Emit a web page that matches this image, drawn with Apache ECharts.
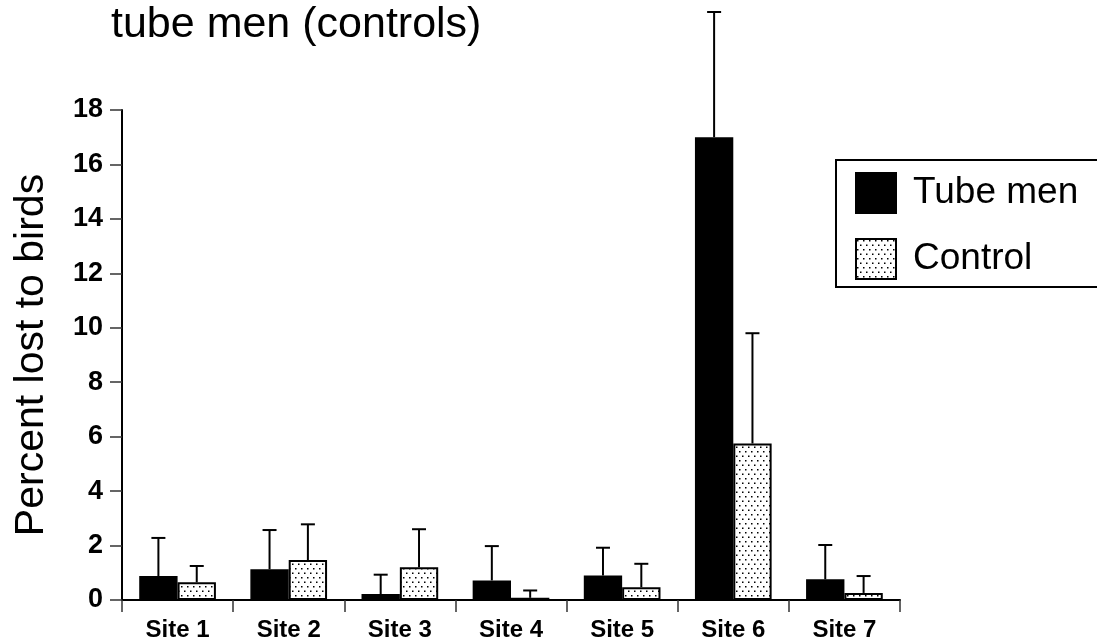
<!DOCTYPE html>
<html>
<head>
<meta charset="utf-8">
<script src="https://cdn.jsdelivr.net/npm/echarts@6/dist/echarts.min.js"></script>
<style>
html,body{margin:0;padding:0;background:#fff;}
#chart{width:1097px;height:643px;}
</style>
</head>
<body>
<div id="chart"></div>
<script>
const categories = ['Site 1','Site 2','Site 3','Site 4','Site 5','Site 6','Site 7'];
const tubeMen    = [0.88, 1.13, 0.22, 0.72, 0.90, 17.0, 0.76];
const tubeMenErr = [1.40, 1.44, 0.71, 1.26, 1.02, 4.60, 1.26];
const control    = [0.65, 1.47, 1.20, 0.08, 0.47, 5.75, 0.26];
const controlErr = [0.60, 1.31, 1.40, 0.27, 0.86, 4.05, 0.62];
const seriesNames = ['Tube men', 'Control'];
const titleText = 'tube men (controls)';
const yAxisName = 'Percent lost to birds';

// dotted pattern
const tile = document.createElement('canvas');
tile.width = 6; tile.height = 9;
const tctx = tile.getContext('2d');
tctx.fillStyle = '#fff';
tctx.fillRect(0, 0, 6, 9);
tctx.fillStyle = '#000';
tctx.fillRect(1, 1, 1.5, 1.5);
tctx.fillRect(4, 5.5, 1.5, 1.5);
const dotPattern = { image: tile, repeat: 'repeat' };

const CAT_GAP = 0.31;
const FONT = 'Liberation Sans, Arial, sans-serif';

function errRender(values, errs, side) {
  return function (params, api) {
    const i = api.value(0);
    const v = values[i];
    const e = errs[i];
    const band = api.size([1, 0])[0];
    const barW = band * (1 - CAT_GAP) / 2;
    const base = api.coord([i, v]);
    const top = api.coord([i, v + e]);
    const x = base[0] + side * barW / 2;
    const cap = 7;
    const style = { stroke: '#000', lineWidth: 2 };
    return {
      type: 'group',
      children: [
        { type: 'line', shape: { x1: x, y1: base[1], x2: x, y2: top[1] }, style: style },
        { type: 'line', shape: { x1: x - cap, y1: top[1], x2: x + cap, y2: top[1] }, style: style }
      ]
    };
  };
}

const chart = echarts.init(document.getElementById('chart'), null, { renderer: 'canvas' });
chart.setOption({
  animation: false,
  backgroundColor: '#fff',
  title: {
    text: titleText,
    left: 111,
    top: 4,
    padding: 0,
    textStyle: { fontFamily: FONT, fontSize: 43, fontWeight: 'normal', color: '#000' }
  },
  legend: {
    orient: 'vertical',
    left: 855,
    top: 172,
    padding: 0,
    itemWidth: 40,
    itemHeight: 40,
    itemGap: 24,
    icon: 'rect',
    data: seriesNames,
    textStyle: { fontFamily: FONT, fontSize: 37, color: '#000', padding: [0, 0, 0, 12] }
  },
  graphic: [{
    type: 'rect',
    shape: { x: 836, y: 160, width: 300, height: 127 },
    style: { fill: 'none', stroke: '#000', lineWidth: 2 },
    z: 10
  }],
  grid: { left: 122, right: 197, top: 110, bottom: 43, containLabel: false, outerBoundsMode: 'none' },
  xAxis: {
    type: 'category',
    data: categories,
    axisLine: { lineStyle: { color: '#000', width: 2 } },
    axisTick: { show: true, length: 12, lineStyle: { color: '#333', width: 1.5 } },
    axisLabel: { fontFamily: FONT, fontSize: 24, fontWeight: 'bold', color: '#000', margin: 18 }
  },
  yAxis: {
    type: 'value',
    min: 0, max: 18, interval: 2,
    name: yAxisName,
    nameLocation: 'middle',
    nameRotate: 90,
    nameGap: 70,
    nameTextStyle: { fontFamily: FONT, fontSize: 41, color: '#000' },
    axisLine: { show: true, lineStyle: { color: '#000', width: 2 } },
    axisTick: { show: true, length: 12, lineStyle: { color: '#333', width: 1.5 } },
    splitLine: { show: false },
    axisLabel: { fontFamily: FONT, fontSize: 27, fontWeight: 'bold', color: '#000', margin: 19 }
  },
  series: [
    {
      name: seriesNames[0], type: 'bar', data: tubeMen,
      barGap: '0%', barCategoryGap: (CAT_GAP * 100) + '%',
      itemStyle: { color: '#000', borderColor: '#000', borderWidth: 1.5 }
    },
    {
      name: seriesNames[1], type: 'bar', data: control,
      barGap: '0%', barCategoryGap: (CAT_GAP * 100) + '%',
      itemStyle: { color: dotPattern, borderColor: '#000', borderWidth: 2 }
    },
    {
      type: 'custom', name: 'err1', data: categories.map((c, i) => [i]),
      renderItem: errRender(tubeMen, tubeMenErr, -1), clip: false, z: 1, silent: true
    },
    {
      type: 'custom', name: 'err2', data: categories.map((c, i) => [i]),
      renderItem: errRender(control, controlErr, 1), clip: false, z: 1, silent: true
    }
  ]
});
</script>
</body>
</html>
